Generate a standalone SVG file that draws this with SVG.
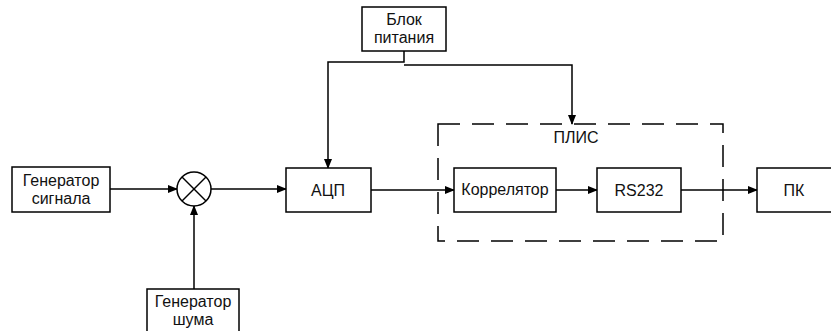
<svg xmlns="http://www.w3.org/2000/svg" width="831" height="331" viewBox="0 0 831 331">
<style>
.box{fill:#fff;stroke:#000;stroke-width:1.5}
.ln{fill:none;stroke:#000;stroke-width:1.5}
.t{font-family:"Liberation Sans",Arial,sans-serif;font-size:16px;fill:#111;text-anchor:middle}
</style>
<defs>
<marker id="ar" markerWidth="10" markerHeight="8" refX="9" refY="4" orient="auto" markerUnits="userSpaceOnUse">
<path d="M0,0 L10,4 L0,8 Z" fill="#000"/>
</marker>
</defs>
<rect width="831" height="331" fill="#fff"/>
<g id="plis">
<rect x="438" y="124" width="285" height="117" fill="none" stroke="#000" stroke-width="1.5" stroke-dasharray="22 12"/>
<text class="t" x="576" y="143">ПЛИС</text>
</g>
<g id="connectors">
<line class="ln" x1="110" y1="189" x2="177" y2="189" marker-end="url(#ar)"/>
<line class="ln" x1="194" y1="289" x2="194" y2="206" marker-end="url(#ar)"/>
<line class="ln" x1="211" y1="189" x2="286" y2="189" marker-end="url(#ar)"/>
<polyline class="ln" points="404,51 404,62 328,62 328,168" marker-end="url(#ar)"/>
<polyline class="ln" points="404,65 572,65 572,124" marker-end="url(#ar)"/>
<line class="ln" x1="371" y1="190" x2="454" y2="190" marker-end="url(#ar)"/>
<line class="ln" x1="556" y1="190" x2="597" y2="190" marker-end="url(#ar)"/>
<line class="ln" x1="681" y1="190" x2="757" y2="190" marker-end="url(#ar)"/>
</g>
<g id="gen_signal">
<rect class="box" x="12" y="167" width="98" height="45"/>
<text class="t" x="61" y="186">Генератор</text>
<text class="t" x="61" y="204">сигнала</text>
</g>
<g id="mixer">
<circle cx="194" cy="189" r="17" fill="#fff" stroke="#000" stroke-width="1.5"/>
<line class="ln" x1="182" y1="177" x2="206" y2="201"/>
<line class="ln" x1="206" y1="177" x2="182" y2="201"/>
</g>
<g id="gen_noise">
<rect class="box" x="147" y="289" width="92" height="45"/>
<text class="t" x="193" y="307">Генератор</text>
<text class="t" x="193" y="325">шума</text>
</g>
<g id="power">
<rect class="box" x="362" y="7" width="84" height="44"/>
<text class="t" x="404" y="25">Блок</text>
<text class="t" x="404" y="43">питания</text>
</g>
<g id="adc">
<rect class="box" x="286" y="168" width="85" height="44"/>
<text class="t" x="328" y="196">АЦП</text>
</g>
<g id="correlator">
<rect class="box" x="454" y="168" width="102" height="44"/>
<text class="t" x="505" y="195">Коррелятор</text>
</g>
<g id="rs232">
<rect class="box" x="597" y="168" width="84" height="44"/>
<text class="t" x="639" y="196">RS232</text>
</g>
<g id="pc">
<rect class="box" x="757" y="168" width="80" height="44"/>
<text class="t" x="794" y="196">ПК</text>
</g>
</svg>
